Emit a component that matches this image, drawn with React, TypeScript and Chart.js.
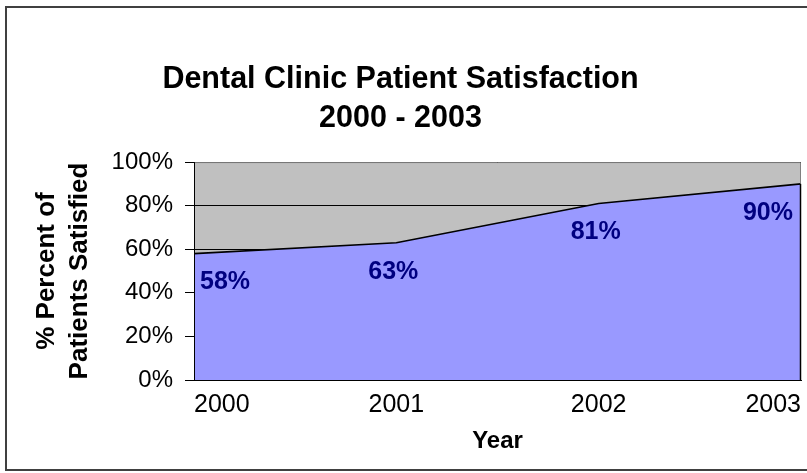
import React, { useEffect, useRef } from 'react';
import { Chart, registerables } from 'chart.js';

Chart.register(...registerables);

const years: string[] = ['2000', '2001', '2002', '2003'];
const satisfaction: number[] = [58, 63, 81, 90];
const yTickValues: number[] = [0, 20, 40, 60, 80, 100];
const titleLines: string[] = ['Dental Clinic Patient Satisfaction', '2000 - 2003'];
const yTitleLines: string[] = ['% Percent of', 'Patients Satisfied'];
const xTitle = 'Year';

const FONT = "'Liberation Sans', Arial, Helvetica, sans-serif";

const framePlugin = {
  id: 'frame',
  beforeDraw(chart: any) {
    const { ctx, chartArea: a } = chart;
    ctx.save();
    ctx.fillStyle = '#ffffff';
    ctx.fillRect(0, 0, chart.width, chart.height);
    ctx.fillStyle = '#C0C0C0';
    ctx.fillRect(a.left, a.top, a.right - a.left, a.bottom - a.top);
    ctx.strokeStyle = '#404040';
    ctx.lineWidth = 2;
    ctx.strokeRect(6, 7, chart.width + 10, 463);
    ctx.restore();
  },
  afterDatasetsDraw(chart: any) {
    const { ctx, chartArea: a } = chart;
    const meta = chart.getDatasetMeta(0);
    const pts = meta.data;
    const last = pts[pts.length - 1];
    ctx.save();
    ctx.strokeStyle = '#808080';
    ctx.lineWidth = 1;
    ctx.beginPath();
    ctx.moveTo(a.left, a.top + 0.5);
    ctx.lineTo(a.right - 0.5, a.top + 0.5);
    ctx.lineTo(a.right - 0.5, last.y);
    ctx.stroke();
    ctx.strokeStyle = '#000000';
    ctx.lineWidth = 1.5;
    ctx.beginPath();
    ctx.moveTo(a.right - 0.5, last.y);
    ctx.lineTo(a.right - 0.5, a.bottom);
    ctx.stroke();
    ctx.lineWidth = 1;
    ctx.beginPath();
    ctx.moveTo(a.left + 0.5, a.top);
    ctx.lineTo(a.left + 0.5, a.bottom + 0.5);
    ctx.lineTo(a.right, a.bottom + 0.5);
    ctx.stroke();
    ctx.fillStyle = '#000080';
    ctx.font = `bold 25px ${FONT}`;
    ctx.textBaseline = 'middle';
    const values = chart.data.datasets[0].data as number[];
    pts.forEach((p: any, i: number) => {
      let x = p.x;
      if (i === 0) {
        ctx.textAlign = 'left';
        x = p.x + 6;
      } else if (i === pts.length - 1) {
        ctx.textAlign = 'right';
        x = p.x - 8;
      } else {
        ctx.textAlign = 'center';
        x = p.x - 3;
      }
      ctx.fillText(`${values[i]}%`, x, p.y + 29);
    });
    ctx.restore();
  },
};

export default function App() {
  const canvasRef = useRef<HTMLCanvasElement | null>(null);

  useEffect(() => {
    const canvas = canvasRef.current;
    if (!canvas) return;
    const chart = new Chart(canvas, {
      type: 'line',
      data: {
        labels: years,
        datasets: [
          {
            data: satisfaction,
            fill: 'origin',
            backgroundColor: '#9999FF',
            borderColor: '#000000',
            borderWidth: 1.6,
            pointRadius: 0,
            tension: 0,
          },
        ],
      },
      options: {
        responsive: false,
        animation: false,
        devicePixelRatio: 1,
        layout: { padding: { left: 0, right: 6, top: 0, bottom: 0 } },
        plugins: {
          legend: { display: false },
          tooltip: { enabled: false },
          title: {
            display: true,
            text: titleLines,
            color: '#000000',
            font: { family: FONT, size: 30.5, weight: 'bold', lineHeight: 1.28 },
            padding: { top: 60, bottom: 24 },
          },
        },
        scales: {
          x: {
            type: 'category',
            offset: false,
            afterFit: (scale: any) => {
              scale.height = 93;
              scale.paddingLeft = 0;
              scale.paddingRight = 0;
            },
            grid: { display: false, drawTicks: false },
            border: { display: true, color: '#000000' },
            ticks: {
              align: 'inner',
              color: '#000000',
              font: { family: FONT, size: 25 },
              padding: 10,
              maxRotation: 0,
              autoSkip: false,
            },
            title: {
              display: true,
              text: xTitle,
              color: '#000000',
              font: { family: FONT, size: 24, weight: 'bold', lineHeight: 1.2 },
              padding: { top: 0, bottom: 17 },
            },
          },
          y: {
            min: 0,
            max: 100,
            afterBuildTicks: (scale: any) => {
              scale.ticks = yTickValues.map((v) => ({ value: v }));
            },
            afterFit: (scale: any) => {
              scale.width = 194;
              scale.paddingTop = 0;
              scale.paddingBottom = 0;
            },
            grid: { color: '#000000', lineWidth: 1, tickLength: 9, drawTicks: true },
            border: { display: true, color: '#000000' },
            ticks: {
              color: '#000000',
              font: { family: FONT, size: 24 },
              padding: 12,
              callback: (v: any) => `${v}%`,
            },
            title: {
              display: true,
              text: yTitleLines,
              color: '#000000',
              font: { family: FONT, size: 26, weight: 'bold', lineHeight: 1.27 },
              padding: { top: 30, bottom: 0 },
            },
          },
        },
      },
      plugins: [framePlugin],
    } as any);
    return () => chart.destroy();
  }, []);

  return (
    <div style={{ position: 'absolute', left: 0, top: 0, width: 807, height: 473 }}>
      <canvas ref={canvasRef} width={807} height={473} />
    </div>
  );
}
